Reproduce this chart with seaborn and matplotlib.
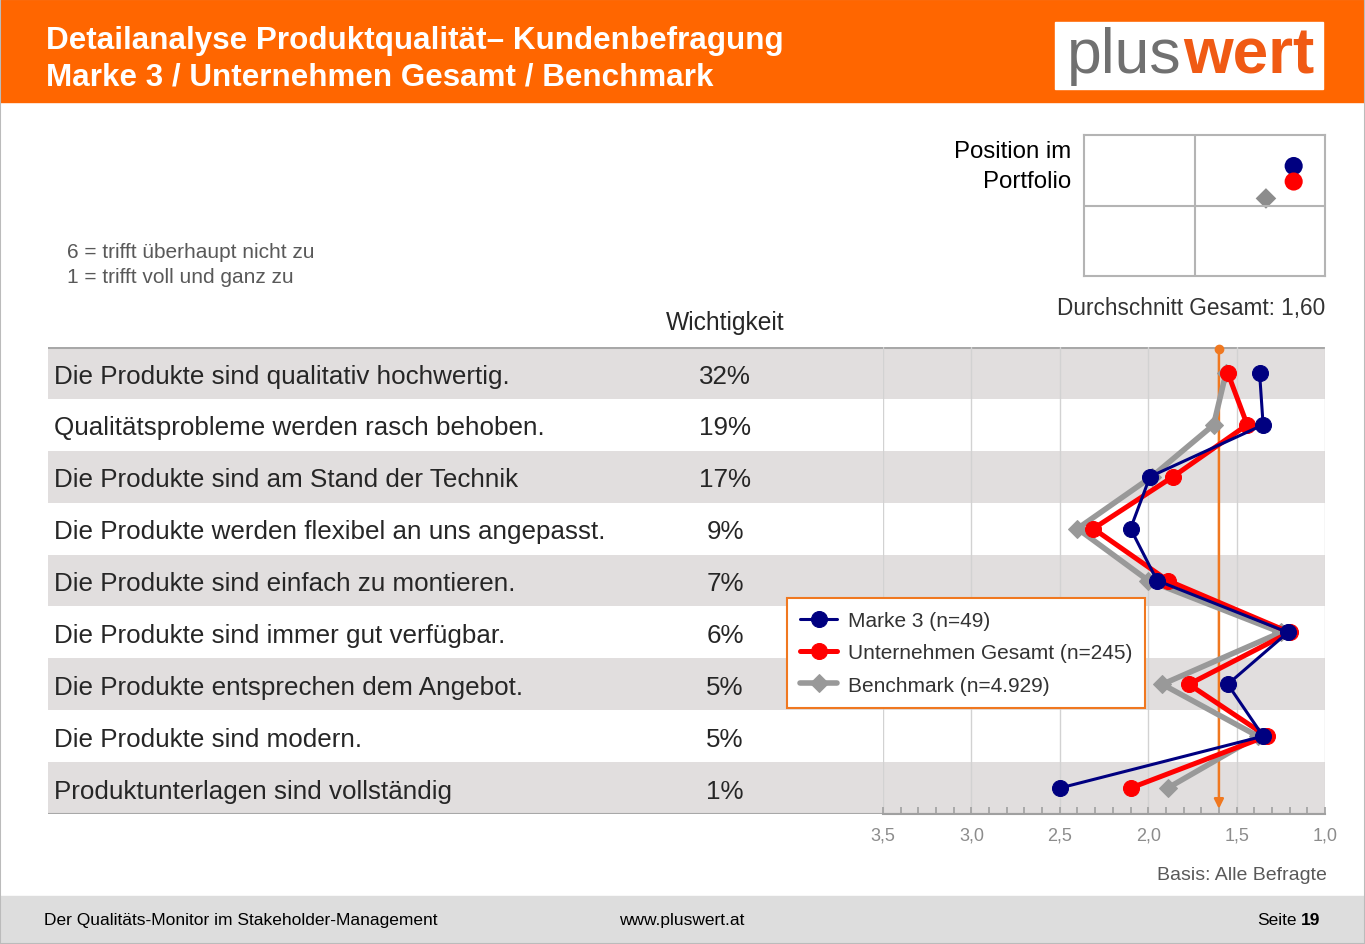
import numpy as np
import pandas as pd
import matplotlib.pyplot as plt
import seaborn as sns
from matplotlib.patches import Rectangle

# Chart data
statements = [
    "Die Produkte sind qualitativ hochwertig.",
    "Qualitätsprobleme werden rasch behoben.",
    "Die Produkte sind am Stand der Technik",
    "Die Produkte werden flexibel an uns angepasst.",
    "Die Produkte sind einfach zu montieren.",
    "Die Produkte sind immer gut verfügbar.",
    "Die Produkte entsprechen dem Angebot.",
    "Die Produkte sind modern.",
    "Produktunterlagen sind vollständig",
]
importance = ["32%", "19%", "17%", "9%", "7%", "6%", "5%", "5%", "1%"]
marke3 = [1.37, 1.35, 1.99, 2.10, 1.95, 1.21, 1.55, 1.35, 2.50]
gesamt = [1.55, 1.44, 1.86, 2.31, 1.89, 1.20, 1.77, 1.33, 2.10]
benchmark = [1.56, 1.63, 1.98, 2.40, 2.00, 1.25, 1.92, 1.38, 1.89]
series_names = ["Marke 3 (n=49)", "Unternehmen Gesamt (n=245)", "Benchmark (n=4.929)"]
avg_total = 1.60
scale_ticks = [3.5, 3.0, 2.5, 2.0, 1.5, 1.0]
scale_labels = ["3,5", "3,0", "2,5", "2,0", "1,5", "1,0"]
# portfolio positions (0..1 in the small quadrant box)
portfolio_x = [0.87, 0.87, 0.755]
portfolio_y = [0.78, 0.67, 0.55]

W, H = 1365, 945
ORANGE = "#FF6600"
MEAN_ORANGE = "#F07820"
NAVY = "#000080"
RED = "#FF0000"
GREY = "#999999"
TXT = "#262626"

sns.set_style("white")
plt.rcParams["font.family"] = ["Liberation Sans", "DejaVu Sans"]


def fx(px):
    return px / W


def fy(py):
    return 1 - py / H


def box(x0, y0, x1, y1):
    return [x0 / W, 1 - y1 / H, (x1 - x0) / W, (y1 - y0) / H]


fig = plt.figure(figsize=(13.65, 9.45), dpi=100)
fig.patch.set_facecolor("white")

# header and footer bands
fig.add_artist(Rectangle((0, fy(103)), 1, 103 / H, transform=fig.transFigure,
                         color=ORANGE, zorder=0))
fig.add_artist(Rectangle((0, 0), 1, 48 / H, transform=fig.transFigure,
                         color="#DDDDDD", zorder=0))
fig.add_artist(Rectangle((0, 0), 1, 1, transform=fig.transFigure, fill=False,
                         edgecolor="#BBBBBB", lw=1.5, zorder=0))

fig.text(fx(46), fy(41), "Detailanalyse Produktqualität– Kundenbefragung",
         color="white", fontsize=22.6, fontweight="bold", va="center")
fig.text(fx(46), fy(78), "Marke 3 / Unternehmen Gesamt / Benchmark",
         color="white", fontsize=22.6, fontweight="bold", va="center")

# logo
fig.add_artist(Rectangle((fx(1055), fy(90)), (1323 - 1055) / W, (90 - 23) / H,
                         transform=fig.transFigure, color="white", zorder=1))
renderer = fig.canvas.get_renderer()
plus = fig.text(fx(1067), fy(57), "plus", color="#707070", fontsize=45,
                va="center", zorder=2)
pb = plus.get_window_extent(renderer=renderer)
fig.text(pb.x1 / W + 2 / W, fy(57), "wert", color="#F05A14", fontsize=46,
         fontweight="bold", va="center", zorder=2)

# footer texts
fig.text(fx(44), fy(921), "Der Qualitäts-Monitor im Stakeholder-Management",
         fontsize=12.5, color="black", va="center")
fig.text(fx(682), fy(921), "www.pluswert.at", fontsize=12.5, color="black",
         va="center", ha="center")
fig.text(fx(1320), fy(921), "19", fontsize=12.5, fontweight="bold",
         color="black", va="center", ha="right")
fig.text(fx(1297), fy(921), "Seite", fontsize=12.5, color="black",
         va="center", ha="right")

# scale explanation and headers
fig.text(fx(67), fy(253), "6 = trifft überhaupt nicht zu", fontsize=15,
         color="#595959", va="center")
fig.text(fx(67), fy(278), "1 = trifft voll und ganz zu", fontsize=15,
         color="#595959", va="center")
fig.text(fx(725), fy(323), "Wichtigkeit", fontsize=17.7, color=TXT,
         va="center", ha="center")
fig.text(fx(1071), fy(152), "Position im", fontsize=17.3, color="black",
         va="center", ha="right")
fig.text(fx(1071), fy(182), "Portfolio", fontsize=17.3, color="black",
         va="center", ha="right")
fig.text(fx(1325), fy(309), f"Durchschnitt Gesamt: {avg_total:.2f}".replace(".", ","),
         fontsize=16.3, color="#333333", va="center", ha="right")
fig.text(fx(1327), fy(876), "Basis: Alle Befragte", fontsize=14,
         color="#595959", va="center", ha="right")

# portfolio box
pf = fig.add_axes(box(1084, 136, 1325, 277))
pf.set_xlim(0, 1)
pf.set_ylim(0, 1)
pf.set_xticks([])
pf.set_yticks([])
for s in pf.spines.values():
    s.set_color("#B4B4B4")
    s.set_linewidth(1.5)
pf.axvline(0.46, color="#B4B4B4", lw=1.5)
pf.axhline(0.5, color="#B4B4B4", lw=1.5)
pf_df = pd.DataFrame({"x": portfolio_x, "y": portfolio_y, "s": series_names})
sns.scatterplot(data=pf_df, x="x", y="y", hue="s", style="s",
                palette=[NAVY, RED, "#8C8C8C"], markers=["o", "o", "D"],
                s=[170, 170, 110], edgecolor="none", legend=False, ax=pf)
pf.set_xlabel("")
pf.set_ylabel("")

# table axes (bands + labels)
n = len(statements)
tab = fig.add_axes(box(48, 348, 1325, 815))
tab.set_xlim(48, 1325)
tab.set_ylim(n - 0.5, -0.5)
tab.axis("off")
for i in range(n):
    if i % 2 == 0:
        tab.axhspan(i - 0.5, i + 0.5, color="#E1DEDE", lw=0, zorder=0)
    tab.text(54, i + 0.05, statements[i], fontsize=18.7, color=TXT,
             va="center")
    tab.text(725, i + 0.05, importance[i], fontsize=18.7, color=TXT,
             va="center", ha="center")
tab.axhline(-0.5, color="#A8A8A8", lw=2.2)
tab.axhline(n - 0.5, color="#A8A8A8", lw=1.5)

# chart axes
ax = fig.add_axes(box(883, 348, 1325, 815))
ax.patch.set_alpha(0)
ax.set_xlim(3.5, 1.0)
ax.set_ylim(n - 0.5, -0.5)

df = pd.DataFrame({
    "row": list(range(n)) * 3,
    "value": marke3 + gesamt + benchmark,
    "series": np.repeat(series_names, n),
})
styles = {
    series_names[2]: dict(color=GREY, marker="D", markersize=9, linewidth=4.0),
    series_names[1]: dict(color=RED, marker="o", markersize=11.5, linewidth=3.6),
    series_names[0]: dict(color=NAVY, marker="o", markersize=11.5, linewidth=2.2),
}
for name in [series_names[2], series_names[1], series_names[0]]:
    sub = df[df["series"] == name]
    sns.lineplot(data=sub, x="value", y="row", orient="y", errorbar=None,
                 markeredgecolor=styles[name]["color"], label=name, ax=ax,
                 **styles[name])

ax.set_xlabel("")
ax.set_ylabel("")
ax.set_yticks([])
ax.set_xticks(scale_ticks)
ax.set_xticklabels(scale_labels)
ax.set_xticks(np.arange(1.0, 3.51, 0.1), minor=True)
ax.tick_params(axis="x", which="both", direction="in", length=5, width=1.2,
               color="#A0A0A0", labelsize=13, labelcolor="#8C8C8C", pad=9,
               bottom=True)
ax.grid(axis="x", which="major", color="#D2D2D2", lw=1)
ax.set_axisbelow(True)
for side in ["top", "left", "right"]:
    ax.spines[side].set_visible(False)
ax.spines["bottom"].set_color("#A0A0A0")
ax.spines["bottom"].set_linewidth(1.5)

# overall mean marker line
ax.annotate("", xy=(avg_total, n - 0.6), xytext=(avg_total, -0.46),
            arrowprops=dict(arrowstyle="-|>", color=MEAN_ORANGE, lw=1.8,
                            mutation_scale=14, shrinkA=0, shrinkB=0),
            zorder=1)
ax.plot([avg_total], [-0.46], marker="o", color=MEAN_ORANGE, markersize=6,
        clip_on=False, zorder=1)

handles, labels = ax.get_legend_handles_labels()
order = [labels.index(s) for s in series_names]
leg = ax.legend([handles[i] for i in order], [labels[i] for i in order],
                loc="upper left", bbox_to_anchor=(fx(787), fy(599)),
                bbox_transform=fig.transFigure, frameon=True, fancybox=False,
                edgecolor=MEAN_ORANGE, framealpha=1, borderaxespad=0,
                fontsize=15, handlelength=1.8, labelspacing=0.64,
                borderpad=0.62, handletextpad=0.5)
leg.get_frame().set_linewidth(1.5)
for t in leg.get_texts():
    t.set_color("#333333")
leg.set_zorder(5)

fig.savefig("out.png", dpi=100)
